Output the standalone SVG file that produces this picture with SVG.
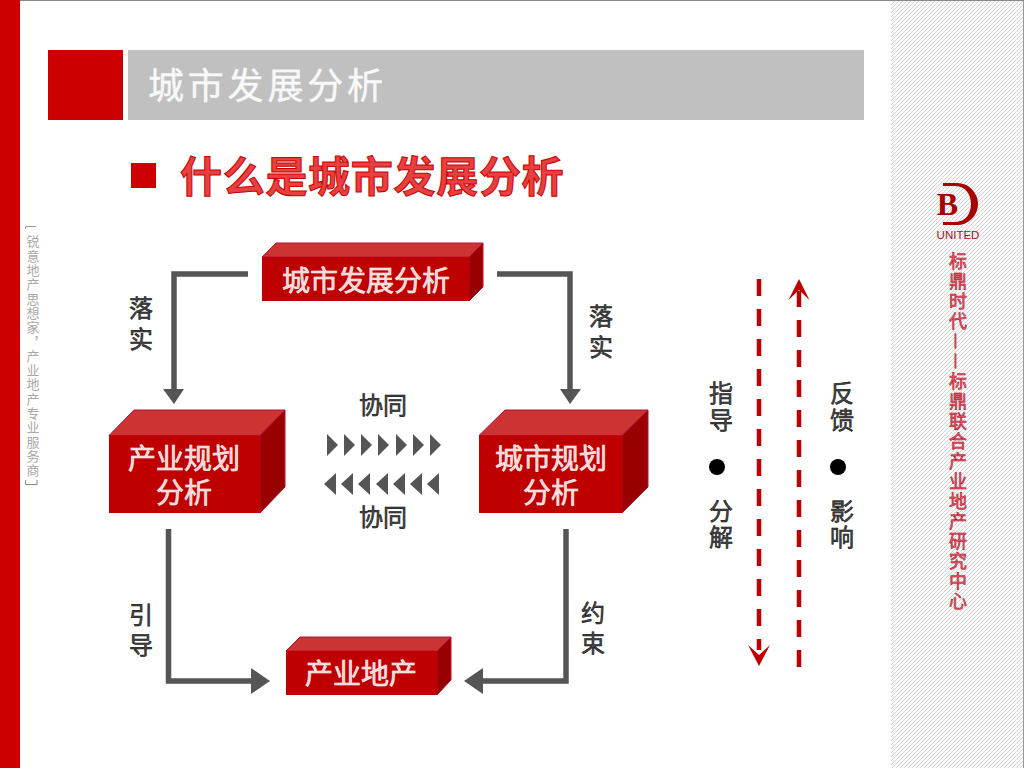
<svg xmlns="http://www.w3.org/2000/svg" width="1024" height="768" viewBox="0 0 1024 768">
<style>
text{font-family:"Noto Sans CJK SC","Liberation Sans",sans-serif;text-anchor:middle}
.front{fill:#bf0000}.top{fill:#cc3333;stroke:#b8103a;stroke-width:1}.side{fill:#990000;stroke:#b8103a;stroke-width:1}
.nt{font-size:28px;fill:#f7d0d0;stroke:#fff;stroke-width:.6}
.lb{font-size:24px;fill:#4a4a4a;stroke:#000;stroke-width:.5}
.vt{writing-mode:vertical-rl;text-anchor:start}
.rc{font-size:18px;letter-spacing:2px;fill:#e06070;stroke:#b00010;stroke-width:.5}
.conn{fill:none;stroke:#555;stroke-width:5.500}
.ah{fill:#555}
.dash{stroke:#c00000;stroke-width:4.500;stroke-dasharray:17 13;fill:none}
.dh{fill:#c00000}
</style>
<defs>
<pattern id="hatch" width="4" height="4" patternUnits="userSpaceOnUse">
<rect width="4" height="4" fill="#fafafa"/>
<path d="M-1 1L1 -1M0 4L4 0M3 5L5 3" stroke="#cfcfcf" stroke-width=".9"/>
</pattern>
</defs>
<rect width="1024" height="768" fill="#fff"/>
<rect x="891" y="1" width="133" height="767" fill="url(#hatch)"/>
<rect width="1024" height="1" fill="#888"/>
<rect x="1023" y="1" width="1" height="767" fill="#999"/>
<rect x="0" y="0" width="20" height="768" fill="#cc0000"/>
<rect x="48" y="50" width="75" height="70" fill="#cc0000"/>
<rect x="128" y="50" width="736" height="70" fill="#c0c0c0"/>
<text x="148" y="99" style="text-anchor:start;font-size:36px;letter-spacing:3.800px;fill:#f8f8f8;stroke:#f8f8f8;stroke-width:.4">城市发展分析</text>
<rect x="131" y="163" width="25" height="25" fill="#cc0000"/>
<text x="180" y="192" style="text-anchor:start;font-size:42px;letter-spacing:.7px;font-weight:700;fill:#e64040;stroke:#cc0000;stroke-width:1">什么是城市发展分析</text>

<g id="side-note">
<path d="M36 226.500H25.500V229" fill="none" stroke="#999"/>
<text class="vt" x="33" y="235" style="font-size:13px;letter-spacing:1.300px;fill:#a8a8a8">锐意地产思想家，产业地产专业服务商</text>
<path d="M25.500 480V484.500H37V480" fill="none" stroke="#888"/>
</g>

<g id="logo">
<path d="M943 183H957A21 21 0 0 1 957 225H943V222H955C966 222 971 213 971 204C971 195 966 186 955 186H943Z" fill="#aa0000"/>
<text x="947.500" y="215" style="font-family:'Liberation Serif',serif;font-size:32px;font-weight:700;fill:#aa0000">B</text>
<text x="958" y="239" style="font-family:'Liberation Sans',sans-serif;font-size:11.500px;fill:#aa1122">UNITED</text>
<text class="vt rc" x="958" y="252">标鼎时代</text>
<text class="vt rc" x="958" y="333">—</text>
<text class="vt rc" x="958" y="353">—</text>
<text class="vt rc" x="958" y="372">标鼎联合产业地产研究中心</text>
</g>

<g id="connectors">
<path class="conn" d="M248 274H174V390"/><polygon class="ah" points="163,389 184,389 174,404"/>
<path class="conn" d="M497 274H570V390"/><polygon class="ah" points="560,389 581,389 570,404"/>
<path class="conn" d="M168.500 529V681H252"/><polygon class="ah" points="251,668 251,694 270,681"/>
<path class="conn" d="M566 529V681H482"/><polygon class="ah" points="483,668 483,694 464,681"/>
<g class="ah">
<polygon points="327,434 338,445 327,456"/><polygon points="344,434 355,445 344,456"/><polygon points="361,434 372,445 361,456"/><polygon points="378,434 389,445 378,456"/><polygon points="396,434 407,445 396,456"/><polygon points="413,434 424,445 413,456"/><polygon points="430,434 441,445 430,456"/>
<polygon points="336,473 324,484 336,495"/><polygon points="353,473 341,484 353,495"/><polygon points="370,473 358,484 370,495"/><polygon points="388,473 376,484 388,495"/><polygon points="405,473 393,484 405,495"/><polygon points="422,473 410,484 422,495"/><polygon points="439,473 427,484 439,495"/>
</g>
<path class="dash" d="M759 279V650"/><polygon class="dh" points="759,666 748,645 759,655 770,645"/>
<path class="dash" d="M799 667V291"/><polygon class="dh" points="799,279 788.500,300 799,290 809.500,300"/>
</g>

<g id="n-city-dev">
<polygon class="top" points="262,257 276,243 483,243 469,257"/><polygon class="side" points="469,257 483,243 483,287 469,301"/><rect class="front" x="262" y="257" width="207" height="44"/>
<text class="nt" x="366" y="291">城市发展分析</text>
</g>
<g id="n-industry-plan">
<polygon class="top" points="109,435.500 134,410 285,410 260,435.500"/><polygon class="side" points="260,435.500 285,410 285,487 260,513"/><rect class="front" x="109" y="435.500" width="151" height="77.500"/>
<text class="nt" x="184" y="469">产业规划<tspan x="184" dy="34">分析</tspan></text>
</g>
<g id="n-city-plan">
<polygon class="top" points="479,435.500 505,410 648,410 622,435.500"/><polygon class="side" points="622,435.500 648,410 648,487 622,513"/><rect class="front" x="479" y="435.500" width="143" height="77.500"/>
<text class="nt" x="551" y="469">城市规划<tspan x="551" dy="34">分析</tspan></text>
</g>
<g id="n-realty">
<polygon class="top" points="286,651 300,637 451,637 437,651"/><polygon class="side" points="437,651 451,637 451,680 437,695"/><rect class="front" x="286" y="651" width="151" height="44"/>
<text class="nt" x="361" y="684">产业地产</text>
</g>

<g id="labels">
<text class="lb vt" x="141" y="296" style="letter-spacing:7px">落实</text>
<text class="lb vt" x="601" y="304" style="letter-spacing:7px">落实</text>
<text class="lb vt" x="141" y="603" style="letter-spacing:6px">引导</text>
<text class="lb vt" x="593" y="601" style="letter-spacing:6px">约束</text>
<text class="lb" x="383" y="414">协同</text><text class="lb" x="383" y="526">协同</text>
<text class="lb vt" x="721" y="381" style="letter-spacing:3px">指导</text>
<text class="lb vt" x="721" y="499" style="letter-spacing:2px">分解</text>
<text class="lb vt" x="842" y="381" style="letter-spacing:3px">反馈</text>
<text class="lb vt" x="842" y="499" style="letter-spacing:2px">影响</text>
<circle cx="717" cy="467" r="8"/><circle cx="838" cy="467" r="8"/>
</g>
</svg>
